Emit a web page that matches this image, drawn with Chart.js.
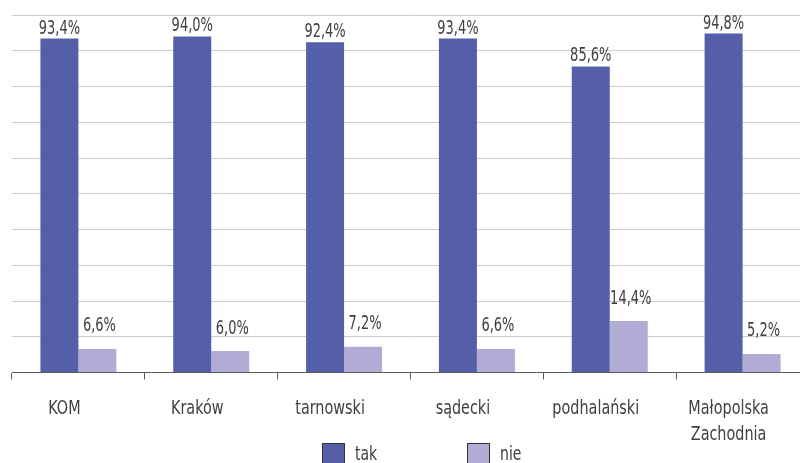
<!DOCTYPE html>
<html>
<head>
<meta charset="utf-8">
<script src="https://cdn.jsdelivr.net/npm/chart.js@4/dist/chart.umd.min.js"></script>
<style>
html,body{margin:0;padding:0;background:#fff;overflow:hidden;width:800px;height:463px;}
#wrap{position:relative;width:812px;height:463px;}
canvas{display:block;}
</style>
</head>
<body>
<div id="wrap"><canvas id="c" width="812" height="463"></canvas></div>
<script>
const categories = ['KOM', 'Kraków', 'tarnowski', 'sądecki', 'podhalański', ['Małopolska', 'Zachodnia']];
const seriesNames = ['tak', 'nie'];
const takValues = [93.4, 94.0, 92.4, 93.4, 85.6, 94.8];
const nieValues = [6.6, 6.0, 7.2, 6.6, 14.4, 5.2];
const yTicks = [0, 10, 20, 30, 40, 50, 60, 70, 80, 90, 100];

const FONT = '"DejaVu Sans Condensed", "DejaVu Sans", sans-serif';
const TEXT = '#404040';
const colTak = '#555EA8';
const colNie = '#B0ACD5';

function narrowText(ctx, text, x, y, sx) {
  ctx.save();
  ctx.translate(x, y);
  ctx.scale(sx, 1);
  ctx.fillText(text, 0, 0);
  ctx.restore();
}

const valueLabels = {
  id: 'valueLabels',
  afterDatasetsDraw(chart) {
    const ctx = chart.ctx;
    ctx.save();
    ctx.font = '19px ' + FONT;
    ctx.fillStyle = TEXT;
    ctx.textAlign = 'center';
    ctx.textBaseline = 'alphabetic';
    chart.data.datasets.forEach((ds, di) => {
      const meta = chart.getDatasetMeta(di);
      const off = di === 0 ? 5 : 17.5;
      const dx = di === 0 ? 0 : 2;
      meta.data.forEach((el, i) => {
        const v = ds.data[i];
        narrowText(ctx, v.toFixed(1).replace('.', ',') + '%', el.x + dx, el.y - off, 0.76);
      });
    });
    ctx.restore();
  }
};

const categoryLabels = {
  id: 'categoryLabels',
  afterDraw(chart) {
    const ctx = chart.ctx;
    const sc = chart.scales.x;
    ctx.save();
    ctx.font = '20px ' + FONT;
    ctx.fillStyle = TEXT;
    ctx.textAlign = 'center';
    ctx.textBaseline = 'alphabetic';
    chart.data.labels.forEach((lab, i) => {
      const x = sc.getPixelForTick(i) - 14;
      const lines = Array.isArray(lab) ? lab : [lab];
      lines.forEach((t, li) => narrowText(ctx, t, x, 414 + li * 26, 0.8));
    });
    ctx.restore();
  }
};

const customLegend = {
  id: 'customLegend',
  afterDraw(chart) {
    const ctx = chart.ctx;
    ctx.save();
    const xs = [322, 467];
    const y = 443;
    ctx.font = '20px ' + FONT;
    ctx.textBaseline = 'middle';
    ctx.textAlign = 'left';
    chart.data.datasets.forEach((ds, di) => {
      const x = xs[di];
      ctx.fillStyle = ds.backgroundColor;
      ctx.fillRect(x, y, 23, 22);
      ctx.strokeStyle = '#333333';
      ctx.lineWidth = 1;
      ctx.strokeRect(x + 0.5, y + 0.5, 22, 21);
      ctx.fillStyle = TEXT;
      narrowText(ctx, ds.label, x + 33, y + 12, 0.78);
    });
    ctx.restore();
  }
};

new Chart(document.getElementById('c'), {
  type: 'bar',
  data: {
    labels: categories,
    datasets: [
      { label: seriesNames[0], data: takValues, backgroundColor: colTak, borderWidth: 0 },
      { label: seriesNames[1], data: nieValues, backgroundColor: colNie, borderWidth: 0 }
    ]
  },
  options: {
    responsive: false,
    animation: false,
    events: [],
    datasets: { bar: { categoryPercentage: 0.572, barPercentage: 1.0 } },
    layout: { padding: { left: 12, right: 3, top: 15, bottom: 2.5 } },
    plugins: { legend: { display: false }, tooltip: { enabled: false } },
    scales: {
      x: {
        border: { display: true, color: '#5a5a5a', width: 1 },
        grid: { display: true, offset: true, drawOnChartArea: false, drawTicks: true, tickLength: 7, color: '#5a5a5a' },
        ticks: { color: 'rgba(0,0,0,0)', padding: 12, font: { family: FONT, size: 19, lineHeight: 1.5 }, maxRotation: 0, autoSkip: false }
      },
      y: {
        min: 0, max: 100,
        afterBuildTicks(scale) { scale.ticks = yTicks.map(v => ({ value: v })); },
        border: { display: false },
        grid: { color: '#cccccc', lineWidth: 1, drawTicks: false },
        ticks: { display: false }
      }
    }
  },
  plugins: [valueLabels, categoryLabels, customLegend]
});
</script>
</body>
</html>
